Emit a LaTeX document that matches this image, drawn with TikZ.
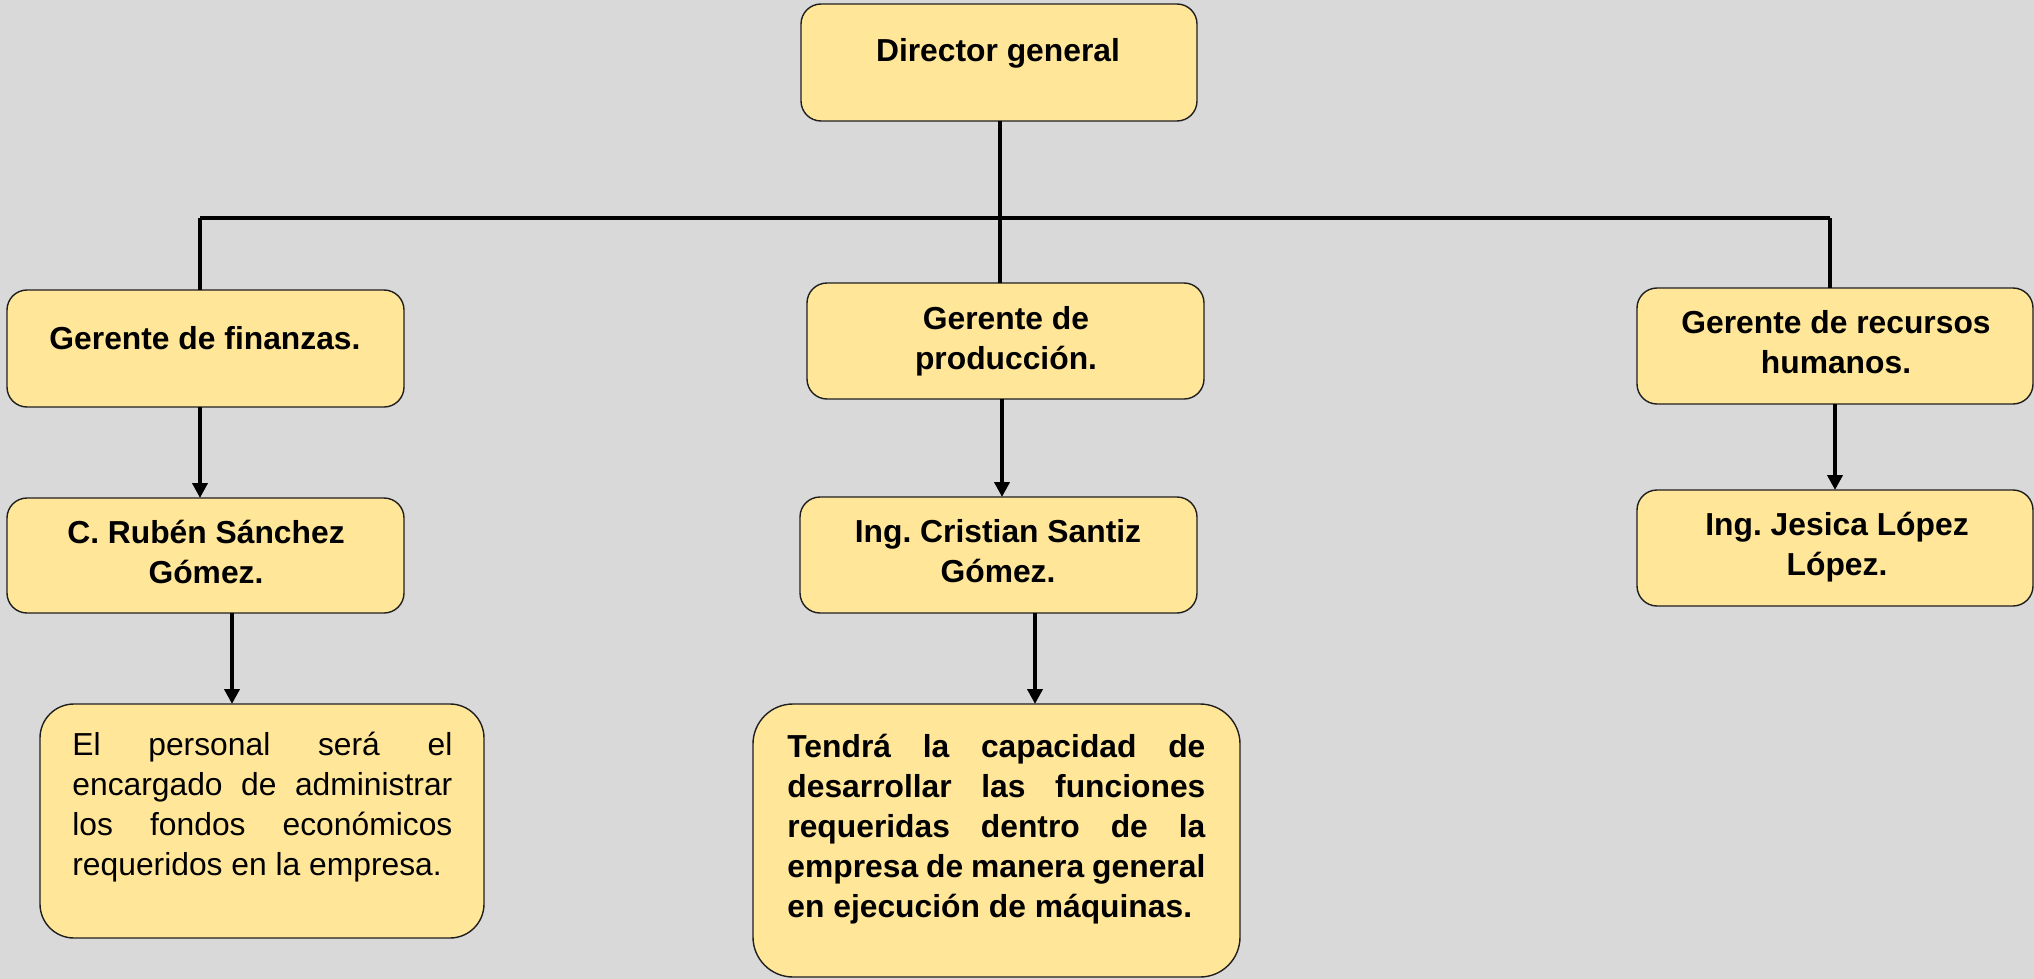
\documentclass[tikz,border=0pt]{standalone}
\usepackage{fontspec}
\setmainfont{Liberation Sans}
\usetikzlibrary{arrows.meta}
\definecolor{bgc}{HTML}{D9D9D9}
\definecolor{boxc}{HTML}{FFE699}
\definecolor{edgec}{HTML}{1F1F1F}
\frenchspacing
\begin{document}
\begin{tikzpicture}[x=0.5pt,y=-0.5pt,
  box/.style={draw=edgec,line width=0.7pt,fill=boxc,rounded corners=10pt,inner sep=0pt,outer sep=0pt},
  txt/.style={inner sep=0pt,anchor=base,font=\fontsize{15.9}{20}\selectfont\bfseries},
  ptxt/.style={inner sep=0pt,anchor=base west,font=\fontsize{15.9}{20}\selectfont},
  conn/.style={line width=2pt,black},
  arr/.style={conn,-{Triangle[length=7.5pt,width=7.5pt]}}]
\fill[bgc] (0,0) rectangle (2034,979);
\useasboundingbox (0,0) rectangle (2034,979);

% boxes
\node[box,minimum width=198pt,minimum height=58.5pt] (dir) at (999,62.5) {};
\node[box,minimum width=198.5pt,minimum height=58.5pt] (fin) at (205.5,348.5) {};
\node[box,minimum width=198.5pt,minimum height=58pt] (pro) at (1005.5,341) {};
\node[box,minimum width=198pt,minimum height=58pt] (rh) at (1835,346) {};
\node[box,minimum width=198.5pt,minimum height=57.5pt] (rub) at (205.5,555.5) {};
\node[box,minimum width=198.5pt,minimum height=58pt] (cri) at (998.5,555) {};
\node[box,minimum width=198pt,minimum height=58pt] (jes) at (1835,548) {};
\node[box,rounded corners=17pt,minimum width=222pt,minimum height=117pt] (per) at (262,821) {};
\node[box,rounded corners=20pt,minimum width=243.5pt,minimum height=136.5pt] (ten) at (996.5,840.5) {};

% texts
\node[txt] (tdir) at (998,62) {Director general};
\node[txt] (tfin) at (205,349) {Gerente de finanzas.};
\node[txt] (tpro) at (1006,329) {\begin{tabular}[t]{@{}c@{}}Gerente de\\producción.\end{tabular}};
\node[txt] (trh) at (1836,333) {\begin{tabular}[t]{@{}c@{}}Gerente de recursos\\humanos.\end{tabular}};
\node[txt] (trub) at (206,543) {\begin{tabular}[t]{@{}c@{}}C. Rubén Sánchez\\Gómez.\end{tabular}};
\node[txt] (tcri) at (998,542) {\begin{tabular}[t]{@{}c@{}}Ing. Cristian Santiz\\Gómez.\end{tabular}};
\node[txt] (tjes) at (1837,535) {\begin{tabular}[t]{@{}c@{}}Ing. Jesica López\\López.\end{tabular}};
\node[ptxt] (tper) at (72,755) {\begin{tabular}[t]{@{}l@{}}\makebox[190pt][s]{El personal será el}\\\makebox[190pt][s]{encargado de administrar}\\\makebox[190pt][s]{los fondos económicos}\\requeridos en la empresa.\end{tabular}};
\node[ptxt,font=\fontsize{15.9}{20}\selectfont\bfseries] (tten) at (787,757) {\begin{tabular}[t]{@{}l@{}}\makebox[209pt][s]{Tendrá la capacidad de}\\\makebox[209pt][s]{desarrollar las funciones}\\\makebox[209pt][s]{requeridas dentro de la}\\\makebox[209pt][s]{empresa de manera general}\\en ejecución de máquinas.\end{tabular}};

% connector coordinates
\coordinate (xa) at (200,218);
\coordinate (xb) at (1000,218);
\coordinate (xc) at (1830,218);
\coordinate (xd) at (232,0);
\coordinate (xe) at (1002,0);
\coordinate (xf) at (1035,0);
\coordinate (xg) at (1835,0);

% connectors
\draw[conn] (dir.south -| xb) -- (pro.north -| xb);
\draw[conn] (xa) -- (xc);
\draw[conn] (xa) -- (fin.north -| xa);
\draw[conn] (xc) -- (rh.north -| xc);
\draw[arr] (fin.south -| xa) -- (rub.north -| xa);
\draw[arr] (pro.south -| xe) -- (cri.north -| xe);
\draw[arr] (rh.south -| xg) -- (jes.north -| xg);
\draw[arr] (rub.south -| xd) -- (per.north -| xd);
\draw[arr] (cri.south -| xf) -- (ten.north -| xf);
\end{tikzpicture}
\end{document}
